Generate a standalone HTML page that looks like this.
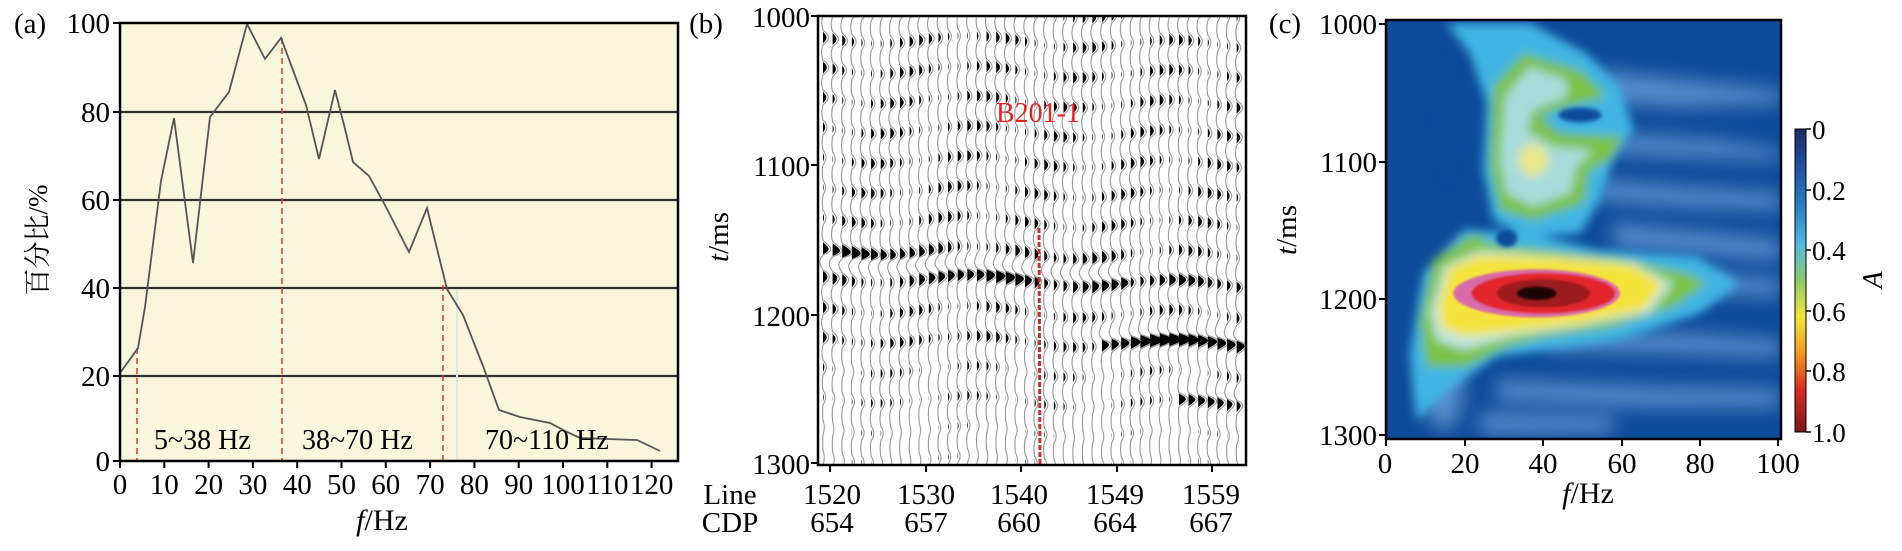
<!DOCTYPE html>
<html><head><meta charset="utf-8"><style>
html,body{margin:0;padding:0;background:#fff;}
svg, svg text{font-family:"Liberation Serif","Noto Serif CJK SC",serif;}
</style></head><body>
<svg id="s" width="1902" height="546" viewBox="0 0 1902 546" xmlns="http://www.w3.org/2000/svg" font-family="Liberation Serif, Noto Serif CJK SC, serif">
<defs>
<filter id="bl" x="-20%" y="-20%" width="140%" height="140%"><feGaussianBlur stdDeviation="14"/></filter>
<filter id="bl2" x="-20%" y="-30%" width="140%" height="160%"><feGaussianBlur stdDeviation="28"/></filter>
<clipPath id="cc"><rect x="1386" y="20" width="395" height="419"/></clipPath>
<clipPath id="cb2"><rect x="819" y="17" width="426" height="447"/></clipPath>
<linearGradient id="cb" x1="0" y1="0" x2="0" y2="1">
<stop offset="0" stop-color="#1b2a66"/><stop offset="0.12" stop-color="#1f4f9e"/>
<stop offset="0.25" stop-color="#2a7dc4"/><stop offset="0.38" stop-color="#4fb8e2"/>
<stop offset="0.5" stop-color="#8ccb6a"/><stop offset="0.62" stop-color="#f2e63a"/>
<stop offset="0.74" stop-color="#f29a1e"/><stop offset="0.86" stop-color="#dc2a22"/>
<stop offset="1" stop-color="#7a1818"/></linearGradient>
</defs>

<!-- Panel a -->
<rect x="120" y="23" width="558" height="438" fill="#faf6dc"/>
<g stroke="#333" stroke-width="2.2">
<line x1="120" y1="112" x2="678" y2="112"/><line x1="120" y1="200" x2="678" y2="200"/>
<line x1="120" y1="288" x2="678" y2="288"/><line x1="120" y1="376" x2="678" y2="376"/>
</g>
<line x1="457" y1="290" x2="457" y2="461" stroke="#d8ebe4" stroke-width="2"/>
<g stroke="#d9433a" stroke-width="1.6" stroke-dasharray="6,4">
<line x1="137" y1="348" x2="137" y2="461"/><line x1="282" y1="38" x2="282" y2="461"/><line x1="443" y1="285" x2="443" y2="461"/>
</g>
<polyline fill="none" stroke="#555" stroke-width="1.8" points="120,373 138,348 145,307 161,181 174,118 193,263 210,117 229,92 247,24 265,59 281,38 306,105 319,159 335,90 344,125 353,162 369,176 386,207 409,252 427,208 440,261 447,289 463,315 483,366 499,410 520,417 550,423 567,432 580,438 607,439 637,440 660,451"/>
<rect x="120" y="23" width="558" height="438" fill="none" stroke="#000" stroke-width="2.5"/>
<g font-size="28" fill="#000">
<text x="154" y="449">5~38 Hz</text>
<text x="302" y="449">38~70 Hz</text>
<text x="485" y="449">70~110 Hz</text>
</g>
<g stroke="#000" stroke-width="2">
<line x1="113" y1="23" x2="120" y2="23"/><line x1="113" y1="112" x2="120" y2="112"/><line x1="113" y1="200" x2="120" y2="200"/><line x1="113" y1="288" x2="120" y2="288"/><line x1="113" y1="376" x2="120" y2="376"/><line x1="113" y1="461" x2="120" y2="461"/>
</g>
<g font-size="29" text-anchor="end">
<text x="110" y="33">100</text><text x="110" y="122">80</text><text x="110" y="210">60</text><text x="110" y="298">40</text><text x="110" y="386">20</text><text x="110" y="471">0</text>
</g>
<text x="14" y="33" font-size="29">(a)</text>
<text transform="translate(47,240) rotate(-90)" font-size="27" text-anchor="middle">百分比/%</text>
<g id="axt" stroke="#000" stroke-width="2"></g>
<g font-size="29" text-anchor="middle" id="axl"></g>
<text x="382" y="530" font-size="30" text-anchor="middle"><tspan font-style="italic">f</tspan>/Hz</text>

<!-- Panel b -->
<rect x="818" y="16" width="428" height="449" fill="#fff"/>
<g id="seis" clip-path="url(#cb2)"></g>
<line x1="1039" y1="228" x2="1040" y2="465" stroke="#d42a2a" stroke-width="3" stroke-dasharray="5,2"/>
<text x="996" y="122" font-size="28" fill="#e52421">B201-1</text>
<rect x="818" y="16" width="428" height="449" fill="none" stroke="#000" stroke-width="2.5"/>
<g stroke="#000" stroke-width="2">
<line x1="811" y1="16" x2="818" y2="16"/><line x1="811" y1="165" x2="818" y2="165"/><line x1="811" y1="315" x2="818" y2="315"/><line x1="811" y1="463" x2="818" y2="463"/>
<line x1="830" y1="465" x2="830" y2="472"/><line x1="926" y1="465" x2="926" y2="472"/><line x1="1021" y1="465" x2="1021" y2="472"/><line x1="1117" y1="465" x2="1117" y2="472"/><line x1="1212" y1="465" x2="1212" y2="472"/>
</g>
<g font-size="29" text-anchor="end">
<text x="810" y="27">1000</text><text x="810" y="176">1100</text><text x="810" y="326">1200</text><text x="810" y="474">1300</text>
</g>
<text x="706" y="33" font-size="29" text-anchor="middle">(b)</text>
<text transform="translate(728,237) rotate(-90)" font-size="29" text-anchor="middle"><tspan font-style="italic">t</tspan>/ms</text>
<g font-size="29" text-anchor="middle">
<text x="730" y="504">Line</text><text x="832" y="504">1520</text><text x="926" y="504">1530</text><text x="1019" y="504">1540</text><text x="1115" y="504">1549</text><text x="1211" y="504">1559</text>
<text x="730" y="532">CDP</text><text x="832" y="532">654</text><text x="926" y="532">657</text><text x="1019" y="532">660</text><text x="1115" y="532">664</text><text x="1211" y="532">667</text>
</g>

<!-- Panel c -->
<g clip-path="url(#cc)">
<rect x="1386" y="20" width="395" height="419" fill="#0e4b9b"/>
<g transform="translate(1380,20) scale(0.3333)">
<g filter="url(#bl2)" fill="#6a9fd6" opacity="0.8">
<polygon points="640,150 1000,190 1200,210 1200,250 900,260 700,250"/>
<polygon points="700,340 1000,360 1200,390 1200,420 900,410 700,400"/>
<polygon points="650,480 900,500 1200,520 1200,570 900,560 650,540"/>
<polygon points="700,610 1000,640 1200,660 1200,720 950,700 700,680"/>
<polygon points="950,760 1200,780 1200,830 1000,820"/>
<polygon points="500,930 900,940 1200,960 1200,1010 900,1000 500,990"/>
<polygon points="350,1080 800,1100 1200,1110 1200,1160 800,1160 350,1140"/>
<polygon points="300,1180 700,1190 700,1240 300,1240"/>
<ellipse cx="190" cy="1100" rx="60" ry="130"/>
</g>
<g filter="url(#bl)">
<polygon fill="#3fb5e3" points="200,10 450,10 620,100 720,200 760,330 700,420 660,540 600,640 440,650 340,600 310,450 320,250 270,100"/>
<polygon fill="#3fb5e3" points="90,1000 130,760 250,630 450,640 650,690 950,710 1080,790 960,880 720,960 500,990 350,1010 220,1100 110,1200"/>
<polygon fill="#7cc243" points="340,200 430,100 600,150 680,230 560,260 480,290 540,340 730,350 690,420 630,450 610,550 460,600 360,570 330,440"/>
<polygon fill="#a8dcdc" points="375,230 450,140 560,180 560,230 460,270 440,330 520,380 640,390 590,440 570,520 460,560 380,520 360,420"/>
<ellipse cx="460" cy="420" rx="45" ry="50" fill="#e8e88a"/>
<polygon fill="#7cc243" points="120,900 160,720 280,640 330,670 500,690 720,715 920,760 980,790 880,860 700,920 500,950 380,980 260,1040 140,1040"/>
<polygon fill="#bfe6e0" points="150,880 190,740 300,690 500,705 760,728 880,790 810,880 600,920 400,950 250,990 170,960"/>
<polygon fill="#f5e43b" points="175,860 205,745 300,705 500,712 760,735 850,795 790,870 600,910 400,935 260,950 185,925"/>
</g>
<g style="filter:blur(3px)">
<ellipse cx="470" cy="820" rx="250" ry="72" fill="#d96aaa"/>
<ellipse cx="490" cy="820" rx="215" ry="60" fill="#e3262c"/>
<ellipse cx="490" cy="820" rx="140" ry="42" fill="#9c1b1e"/>
<ellipse cx="470" cy="820" rx="60" ry="20" fill="#1e0505"/>
</g>
<g style="filter:blur(6px)" fill="#0e4b9b">
<ellipse cx="380" cy="655" rx="32" ry="26"/><ellipse cx="600" cy="285" rx="65" ry="22"/>
<ellipse cx="200" cy="300" rx="50" ry="200"/>
</g>
</g>
</g>
<rect x="1386" y="20" width="395" height="419" fill="none" stroke="#000" stroke-width="2.5"/>
<g stroke="#000" stroke-width="2">
<line x1="1379" y1="24" x2="1386" y2="24"/><line x1="1379" y1="162" x2="1386" y2="162"/><line x1="1379" y1="299" x2="1386" y2="299"/><line x1="1379" y1="435" x2="1386" y2="435"/>
<line x1="1386" y1="439" x2="1386" y2="446"/><line x1="1465" y1="439" x2="1465" y2="446"/><line x1="1543" y1="439" x2="1543" y2="446"/><line x1="1622" y1="439" x2="1622" y2="446"/><line x1="1700" y1="439" x2="1700" y2="446"/><line x1="1778" y1="439" x2="1778" y2="446"/>
</g>
<g font-size="29" text-anchor="end">
<text x="1377" y="34">1000</text><text x="1377" y="172">1100</text><text x="1377" y="309">1200</text><text x="1377" y="445">1300</text>
</g>
<g font-size="29" text-anchor="middle">
<text x="1385" y="473">0</text><text x="1465" y="473">20</text><text x="1543" y="473">40</text><text x="1622" y="473">60</text><text x="1700" y="473">80</text><text x="1778" y="473">100</text>
</g>
<text x="1588" y="503" font-size="30" text-anchor="middle"><tspan font-style="italic">f</tspan>/Hz</text>
<text x="1285" y="33" font-size="29" text-anchor="middle">(c)</text>
<text transform="translate(1296,230) rotate(-90)" font-size="29" text-anchor="middle"><tspan font-style="italic">t</tspan>/ms</text>
<rect x="1795" y="129" width="11" height="303" fill="url(#cb)" stroke="#000" stroke-width="1"/>
<g stroke="#000" stroke-width="1.5">
<line x1="1806" y1="129" x2="1811" y2="129"/><line x1="1806" y1="190" x2="1811" y2="190"/><line x1="1806" y1="250" x2="1811" y2="250"/><line x1="1806" y1="311" x2="1811" y2="311"/><line x1="1806" y1="371" x2="1811" y2="371"/><line x1="1806" y1="432" x2="1811" y2="432"/>
</g>
<g font-size="27">
<text x="1812" y="139">0</text><text x="1812" y="200">0.2</text><text x="1812" y="260">0.4</text><text x="1812" y="321">0.6</text><text x="1812" y="381">0.8</text><text x="1812" y="442">1.0</text>
</g>
<text transform="translate(1882,280) rotate(-90)" font-size="28" font-style="italic" text-anchor="middle">A</text>
</svg>
<script>
(function(){
var NS="http://www.w3.org/2000/svg";
var axt=document.getElementById("axt"),axl=document.getElementById("axl");
for(var k=0;k<=12;k++){var x=120+k*44.3;
 var l=document.createElementNS(NS,"line");l.setAttribute("x1",x);l.setAttribute("x2",x);l.setAttribute("y1",461);l.setAttribute("y2",468);axt.appendChild(l);
 var t=document.createElementNS(NS,"text");t.setAttribute("x",x);t.setAttribute("y",494);t.textContent=String(k*10);axl.appendChild(t);}
var g=document.getElementById("seis");var N=44;var html="";
function g1(y,c,w){var d=(y-c)/w;return Math.exp(-d*d);}
for(var i=0;i<N;i++){
 var x0=823+i*9.62;var pts=[],fill=[];
 var ph=5*Math.sin(i*0.3)+i*0.2;
 for(var y=17;y<=464;y+=1){
  var base=Math.sin(2*Math.PI*(y-ph)/30);
  var fade=y<300?1:Math.max(0.45,1-(y-300)/250);
  var amp=(0.65+0.25*Math.sin(i*0.7+y*0.025))*fade;
  var c1=260+(i/N)*22;var e1=(i<32?1.4:0.5)*g1(y,c1,12);
  var e2=(i>28?1.6:0.15)*g1(y,338,11);
  var e3=(i>36?1.2:0.1)*g1(y,397,10);
  var env=amp+e1+e2+e3;
  var a=base*env;
  var dx=a>0?a*6.5:a*1.6;
  pts.push((x0+dx).toFixed(1)+","+y);
  fill.push([x0+Math.max(0,dx-2),y]);
 }
 var fp="M"+x0+",17";fill.forEach(function(p){fp+="L"+p[0].toFixed(1)+","+p[1];});fp+="L"+x0+",464Z";
 html+='<polyline points="'+pts.join(" ")+'" fill="none" stroke="#9a9a9a" stroke-width="1.1"/>';
 html+='<path d="'+fp+'" fill="#000"/>';
}
g.innerHTML=html;
})();
</script>
</body></html>
